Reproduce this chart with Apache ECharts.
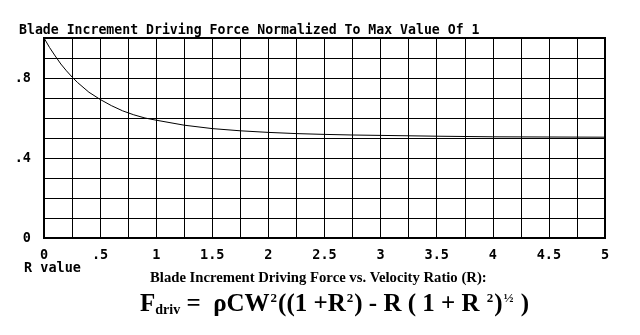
<!DOCTYPE html>
<html>
<head>
<meta charset="utf-8">
<script src="https://cdn.jsdelivr.net/npm/echarts@6/dist/echarts.min.js"></script>
<style>
  html, body { margin: 0; padding: 0; background: #fff; }
  #chart { width: 640px; height: 335px; }
</style>
</head>
<body>
<div id="chart"></div>
<script>
// Normalized blade increment driving force against velocity ratio R
const rValues = [0, 0.05, 0.1, 0.15, 0.2, 0.25, 0.3, 0.4, 0.5, 0.6, 0.7, 0.75, 0.8, 0.9, 1.0,
                 1.25, 1.5, 1.75, 2.0, 2.25, 2.5, 2.75, 3.0, 3.5, 4.0, 4.5, 5.0];
const forceValues = [1.0, 0.952, 0.91, 0.87, 0.836, 0.805, 0.777, 0.729, 0.693, 0.662, 0.636, 0.626, 0.616, 0.6, 0.589,
                     0.564, 0.547, 0.536, 0.528, 0.522, 0.518, 0.515, 0.513, 0.509, 0.506, 0.505, 0.504];
const xTicks = [0, 0.5, 1, 1.5, 2, 2.5, 3, 3.5, 4, 4.5, 5];
const yTickLabels = { 0: '0', 4: '.4', 8: '.8' };

const titleText = 'Blade Increment Driving Force Normalized To Max Value Of 1';
const xAxisTitle = 'R value';
const captionText = 'Blade Increment Driving Force vs. Velocity Ratio (R):';

const mono = '"DejaVu Sans Mono", "Liberation Mono", monospace';
const serif = '"Liberation Serif", "DejaVu Serif", serif';

function fmtX(v) {
  const r = Math.round(v * 100) / 100;
  if (!xTicks.includes(r)) return '';
  if (r === 0) return '0';
  let s = String(r);
  if (s.startsWith('0.')) s = s.slice(1);
  return s;
}
function fmtY(v) {
  const k = Math.round(v * 10);
  return yTickLabels[k] !== undefined ? yTickLabels[k] : '';
}

const chart = echarts.init(document.getElementById('chart'), null, { renderer: 'canvas' });
chart.setOption({
  backgroundColor: '#fff',
  animation: false,
  title: {
    text: titleText,
    left: 14,
    top: 19,
    textStyle: { fontFamily: mono, fontWeight: 'bold', fontSize: 13.2, color: '#000' }
  },
  grid: {
    left: 44, right: 35, top: 38, bottom: 97,
    show: true, borderColor: '#000', borderWidth: 2, backgroundColor: '#fff'
  },
  xAxis: {
    type: 'value', min: 0, max: 5, interval: 0.25,
    axisLine: { show: true, onZero: false, lineStyle: { color: '#000', width: 2 } },
    axisTick: { show: false },
    splitLine: { show: true, lineStyle: { color: '#000', width: 1 } },
    axisLabel: {
      formatter: fmtX, margin: 10, showMaxLabel: true, showMinLabel: true,
      fontFamily: mono, fontWeight: 'bold', fontSize: 13.5, color: '#000'
    }
  },
  yAxis: {
    type: 'value', min: 0, max: 1, interval: 0.1,
    axisLine: { show: true, lineStyle: { color: '#000', width: 2 } },
    axisTick: { show: false },
    splitLine: { show: true, lineStyle: { color: '#000', width: 1 } },
    axisLabel: {
      formatter: fmtY, margin: 13,
      fontFamily: mono, fontWeight: 'bold', fontSize: 13.5, color: '#000'
    }
  },
  series: [{
    type: 'line',
    data: rValues.map((r, i) => [r, forceValues[i]]),
    showSymbol: false,
    smooth: false,
    lineStyle: { color: '#000', width: 1 },
    z: 5
  }],
  graphic: [
    {
      type: 'text', left: 24, top: 261,
      style: { text: xAxisTitle, fontFamily: mono, fontWeight: 'bold', fontSize: 13.5, fill: '#000' }
    },
    {
      type: 'text', left: 150, top: 271,
      style: { text: captionText, fontFamily: serif, fontWeight: 'bold', fontSize: 14.7, fill: '#000' }
    },
    {
      type: 'text', left: 140, top: 292,
      style: {
        text: '{m|F}{sub|driv}{m| =  ρCW}{sup|2}{m|((1 +R}{sup|2}{m|) - R ( 1 + R }{sup|2}{m|)}{sup|½}{m| )}',
        fill: '#000',
        rich: {
          m: { fontFamily: serif, fontWeight: 'bold', fontSize: 25, fill: '#000', verticalAlign: 'bottom' },
          sub: { fontFamily: serif, fontWeight: 'bold', fontSize: 14, fill: '#000', verticalAlign: 'bottom' },
          sup: { fontFamily: serif, fontWeight: 'bold', fontSize: 13, fill: '#000', verticalAlign: 'bottom',
                 padding: [0, 1, 12, 1] }
        }
      }
    }
  ]
});
</script>
</body>
</html>
